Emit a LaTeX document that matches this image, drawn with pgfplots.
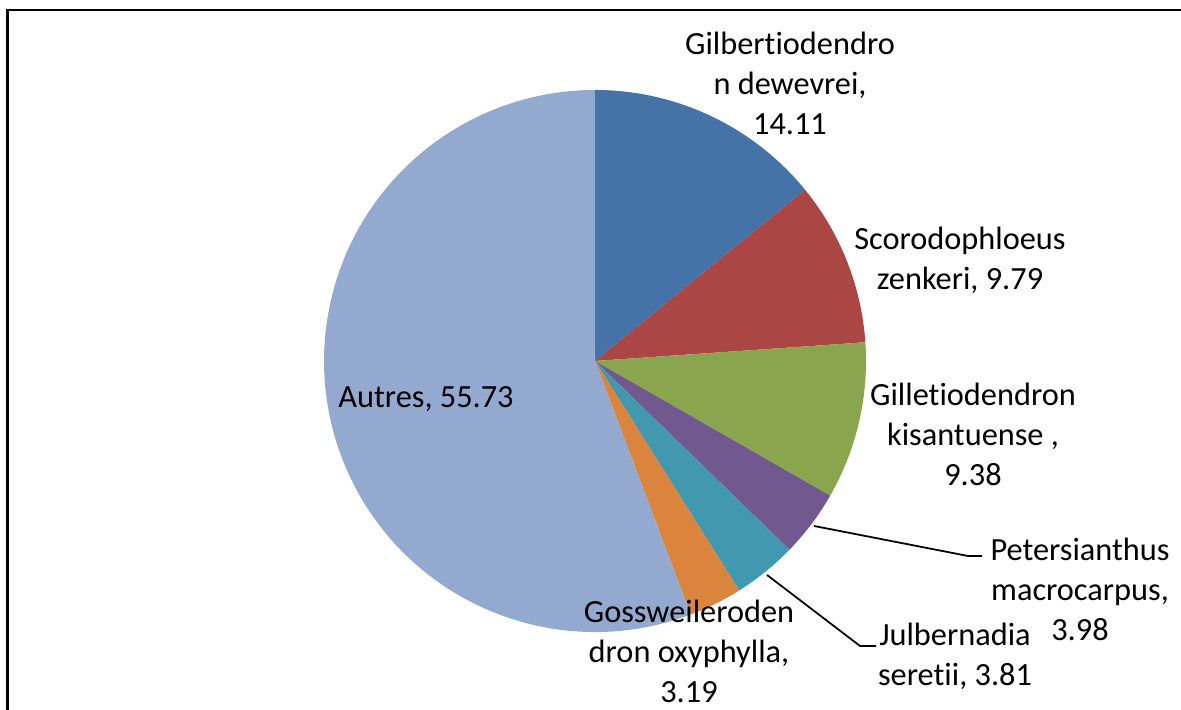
\documentclass[border=0pt]{standalone}
\usepackage{pgfplots}
\pgfplotsset{compat=1.18}
\usepackage{pgfplotstable}
\usepackage{fontspec}
\setmainfont{Carlito}[Ligatures=NoCommon]
\definecolor{cA}{HTML}{4572A7}
\definecolor{cB}{HTML}{AA4643}
\definecolor{cC}{HTML}{89A54E}
\definecolor{cD}{HTML}{71588F}
\definecolor{cE}{HTML}{4198AF}
\definecolor{cF}{HTML}{DB843D}
\definecolor{cG}{HTML}{93A9CF}

% slices, clockwise from 12 o'clock
\pgfplotstableread{
name value col
Gilbertiodendron 14.11 cA
Scorodophloeus 9.79 cB
Gilletiodendron 9.38 cC
Petersianthus 3.98 cD
Julbernadia 3.81 cE
Gossweilerodendron 3.19 cF
Autres 55.73 cG
}\piedata

\tikzset{lbl/.style={font=\fontsize{9.2}{11.4}\selectfont, align=center, inner sep=0pt}}

\begin{document}
\begin{tikzpicture}
\begin{axis}[
  scale only axis, width=11.81cm, height=7.10cm,
  xmin=0, xmax=1181, ymin=0, ymax=710,
  hide axis, clip=false,
]
  \def\cum{0}
  \pgfplotsforeachungrouped \k in {0,...,6} {
    \pgfplotstablegetelem{\k}{value}\of\piedata \let\val\pgfplotsretval
    \pgfplotstablegetelem{\k}{col}\of\piedata \let\col\pgfplotsretval
    \pgfmathsetmacro\aa{90-3.6*\cum}
    \pgfmathsetmacro\bb{90-3.6*(\cum+\val)}
    \edef\temp{\noexpand\fill[\col] (axis cs:595,349) -- ++(\aa:27.1mm)
      arc[start angle=\aa, end angle=\bb, radius=27.1mm] -- cycle;}
    \temp
    \pgfmathsetmacro\cum{\cum+\val}
  }

  % leader lines
  \addplot[black, line width=0.5pt] coordinates {(814,184) (968,154) (982,154)};
  \addplot[black, line width=0.5pt] coordinates {(767,135) (860,64) (876,64)};

  % chart area border (top and left edges)
  \addplot[black, line width=0.7pt] coordinates {(7.5,0) (7.5,700) (1181,700)};

  \node[lbl] at (axis cs:790,626.5) {Gilbertiodendro\\n dewevrei,\\14.11};
  \node[lbl] at (axis cs:960,449.5) {Scorodophloeus\\zenkeri, 9.79};
  \node[lbl] at (axis cs:973,276) {Gilletiodendron\\kisantuense ,\\9.38};
  \node[lbl] at (axis cs:1080,121) {Petersianthus\\macrocarpus,\\3.98};
  \node[lbl] at (axis cs:955,53.5) {Julbernadia\\seretii, 3.81};
  \node[lbl] at (axis cs:689,59) {Gossweileroden\\dron oxyphylla,\\3.19};
  \node[lbl] at (axis cs:426,311) {Autres, 55.73};
\end{axis}
\pgfresetboundingbox
\path[use as bounding box] (current axis.south west) rectangle (current axis.north east);
\end{tikzpicture}
\end{document}
